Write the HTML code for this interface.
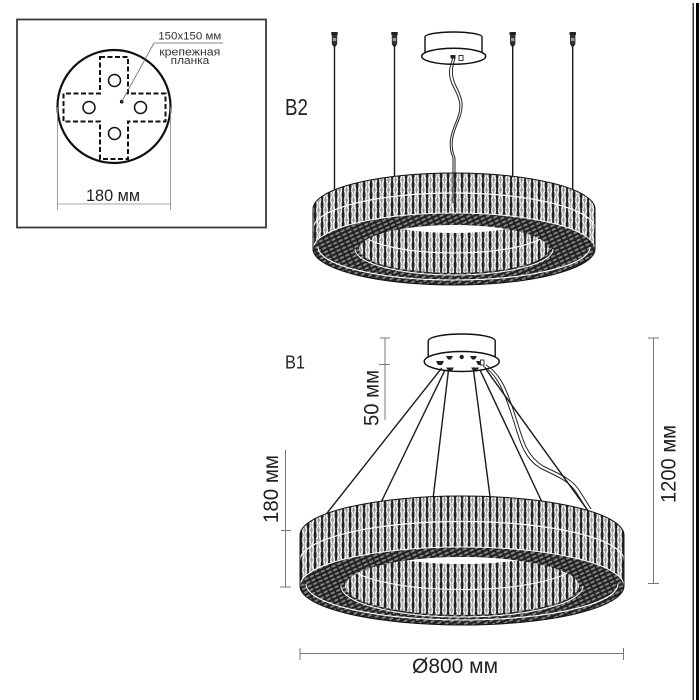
<!DOCTYPE html>
<html><head><meta charset="utf-8"><style>html,body{margin:0;padding:0;background:#fff;width:700px;height:700px;overflow:hidden}</style></head><body>
<svg width="700" height="700" viewBox="0 0 700 700" xmlns="http://www.w3.org/2000/svg" font-family="'Liberation Sans', sans-serif">
<defs>
<pattern id="cr" width="7" height="10" patternUnits="userSpaceOnUse">
<rect width="7" height="10" fill="#222"/>
<rect x="1.3" width="4.6" height="10" fill="#b8b8b8"/>
<path d="M1.3,0.5 L5.9,9.5 M5.9,0.5 L1.3,9.5" stroke="#fff" stroke-width="1.2"/>
<path d="M3.6,0 V10" stroke="#666" stroke-width="0.4"/>
</pattern>
<pattern id="dk" width="6" height="4" patternUnits="userSpaceOnUse" patternTransform="rotate(-25)">
<rect width="6" height="4" fill="#222"/>
<ellipse cx="3" cy="2" rx="2.4" ry="1" fill="#858585"/>
</pattern>
<clipPath id="i1b2"><ellipse cx="454" cy="209" rx="95" ry="24"/></clipPath>
<clipPath id="i2b2"><ellipse cx="454" cy="249" rx="95" ry="24"/></clipPath>
<clipPath id="i1b1"><ellipse cx="462" cy="535" rx="117" ry="29"/></clipPath>
<clipPath id="i2b1"><ellipse cx="462" cy="586" rx="117" ry="29"/></clipPath>
</defs>

<!-- right edge bars -->
<rect x="692.5" y="3" width="1.5" height="697" fill="#333"/>
<rect x="696" y="3" width="3" height="697" fill="#000"/>

<!-- ===== Top-left box ===== -->
<rect x="17" y="19.5" width="249" height="208" fill="none" stroke="#3a3a3a" stroke-width="1.8"/>
<circle cx="114" cy="106.5" r="56.5" fill="none" stroke="#111" stroke-width="2.2"/>
<path d="M100,57 H128 V93.5 H165.5 V121.5 H128 V159 H100 V121.5 H63.5 V93.5 H100 Z" fill="none" stroke="#111" stroke-width="2" stroke-dasharray="5 2.5"/>
<circle cx="114.5" cy="80.5" r="6" fill="none" stroke="#111" stroke-width="1.5"/>
<circle cx="89" cy="107.5" r="6" fill="none" stroke="#111" stroke-width="1.5"/>
<circle cx="140.5" cy="107.5" r="6" fill="none" stroke="#111" stroke-width="1.5"/>
<circle cx="114.5" cy="133.5" r="6" fill="none" stroke="#111" stroke-width="1.5"/>
<circle cx="121.7" cy="101.7" r="1.8" fill="#111"/>
<path d="M121.7,101.7 L154,43 H223" fill="none" stroke="#666" stroke-width="0.8"/>
<text x="158.3" y="39.3" font-size="10.6" fill="#333" textLength="63" lengthAdjust="spacingAndGlyphs">150x150 мм</text>
<text x="159.3" y="55.7" font-size="10.6" fill="#333" textLength="61" lengthAdjust="spacingAndGlyphs">крепежная</text>
<text x="170.7" y="64" font-size="10.6" fill="#333" textLength="38.6" lengthAdjust="spacingAndGlyphs">планка</text>
<path d="M57.5,107 V210 M170.5,107 V210 M57.5,204 H170.5" stroke="#888" stroke-width="0.8" fill="none"/>
<text x="86" y="201" font-size="17" fill="#222" textLength="54" lengthAdjust="spacingAndGlyphs">180 мм</text>

<!-- ===== B2 ===== -->
<text x="285" y="115" font-size="23" fill="#222" textLength="23" lengthAdjust="spacingAndGlyphs">B2</text>

<!-- hooks -->
<g fill="#222">
<g transform="translate(334.5,0)"><rect x="-3.2" y="32" width="6.4" height="3"/><rect x="-2.7" y="35" width="5.4" height="9" fill="#333"/><rect x="-1.7" y="38" width="3.4" height="3" fill="#999"/><path d="M-2.7,44 L0,48 L2.7,44Z"/></g>
<g transform="translate(394.5,0)"><rect x="-3.2" y="32" width="6.4" height="3"/><rect x="-2.7" y="35" width="5.4" height="9" fill="#333"/><rect x="-1.7" y="38" width="3.4" height="3" fill="#999"/><path d="M-2.7,44 L0,48 L2.7,44Z"/></g>
<g transform="translate(512.7,0)"><rect x="-3.2" y="32" width="6.4" height="3"/><rect x="-2.7" y="35" width="5.4" height="9" fill="#333"/><rect x="-1.7" y="38" width="3.4" height="3" fill="#999"/><path d="M-2.7,44 L0,48 L2.7,44Z"/></g>
<g transform="translate(572.7,0)"><rect x="-3.2" y="32" width="6.4" height="3"/><rect x="-2.7" y="35" width="5.4" height="9" fill="#333"/><rect x="-1.7" y="38" width="3.4" height="3" fill="#999"/><path d="M-2.7,44 L0,48 L2.7,44Z"/></g>
</g>
<path d="M334.5,47 V190 M394.5,47 V177 M512.7,47 V177 M572.7,47 V190" stroke="#1a1a1a" stroke-width="1.4" fill="none"/>

<!-- canopy B2 -->
<path d="M425,37 A28.5,5 0 0 1 482,37 L482,54 L425,54 Z" fill="#fff" stroke="#111" stroke-width="1.4"/>
<ellipse cx="453.7" cy="56.3" rx="32" ry="8" fill="#fff" stroke="#111" stroke-width="1.5"/>
<rect x="450.5" y="55" width="5" height="3.5" fill="#222"/>
<rect x="459" y="55.5" width="4" height="5" fill="#fff" stroke="#222" stroke-width="0.9"/>

<!-- ring B2 -->
<path d="M313,209 A141,36 0 0 1 595,209 L595,249 A141,36 0 0 1 313,249 Z" fill="url(#dk)"/>
<ellipse cx="454" cy="249" rx="95" ry="24" fill="url(#cr)"/>
<ellipse cx="454" cy="249" rx="95" ry="24" fill="#fff" clip-path="url(#i1b2)"/>
<path d="M359,229 A95,24 0 0 0 549,229" fill="none" stroke="#fff" stroke-width="1.1" clip-path="url(#i2b2)"/>
<path d="M355,249 A99,26 0 0 0 553,249" fill="none" stroke="#fff" stroke-width="1"/>
<path d="M318,247 A136,33 0 0 0 590,247" fill="none" stroke="#fff" stroke-width="1.1"/>
<path d="M313,209 A141,36 0 0 1 595,209 L595,249 A141,36 0 0 0 313,249 Z" fill="url(#cr)"/>
<path d="M313,229 A141,36 0 0 1 595,229" fill="none" stroke="#fff" stroke-width="1.2"/>
<path d="M313,249 A141,36 0 0 1 595,249" fill="none" stroke="#fff" stroke-width="1"/>
<path d="M313,209 A141,36 0 0 1 595,209 L595,249 A141,36 0 0 1 313,249 Z" fill="none" stroke="#111" stroke-width="1"/>

<!-- center wire B2 -->
<path d="M453,58 C449,68 448,74 452,84 C458,96 464,104 456,122 C450,136 448,146 453,158 L453,203" fill="none" stroke="#222" stroke-width="1"/>
<path d="M455,58 C452,68 451,74 455,84 C461,96 466,104 458,122 C452,136 450,146 455,158 L455,203" fill="none" stroke="#222" stroke-width="1"/>

<!-- ===== B1 ===== -->
<text x="285" y="368.3" font-size="18.5" fill="#222" textLength="20" lengthAdjust="spacingAndGlyphs">B1</text>

<!-- canopy B1 -->
<path d="M428.2,341 A33.5,7 0 0 1 495.2,341 L495.2,358 L428.2,358 Z" fill="#fff" stroke="#111" stroke-width="1.4"/>
<ellipse cx="461.7" cy="361.5" rx="37.5" ry="10" fill="#fff" stroke="#111" stroke-width="1.5"/>
<g fill="#222">
<path d="M436,361 L444,361 L442,365 L438,365 Z"/>
<path d="M446,356 L453,356 L451,359.5 L448,359.5 Z"/>
<circle cx="461.7" cy="357" r="2.2"/>
<path d="M470,356 L477,356 L475,359.5 L472,359.5 Z"/>
<path d="M476,361 L484,361 L482,365 L478,365 Z"/>
<path d="M446,367.5 L454,367.5 L452,370.5 L448,370.5 Z"/>
<path d="M471,367.5 L479,367.5 L477,370.5 L473,370.5 Z"/>
</g>
<rect x="480.5" y="360" width="3.5" height="5" fill="#fff" stroke="#222" stroke-width="0.9"/>

<!-- wires B1 -->
<g stroke="#1a1a1a" stroke-width="1.4" fill="none">
<path d="M441.7,368 L326.7,513.5"/>
<path d="M445,370 L381.7,501"/>
<path d="M448.5,370 L433.3,496.5"/>
<path d="M473.5,370 L490,496.5"/>
<path d="M480,370 L541.7,501.5"/>
<path d="M485,368 L590,513.5"/>
</g>
<g stroke="#222" stroke-width="1" fill="none">
<path d="M483,366 C500,376 506,398 514,422 C520,442 524,458 540,468 C556,476 568,480 576,492 L588,511"/>
<path d="M486,365 C503,375 509,397 517,421 C523,441 527,456 543,466 C559,474 571,478 579,490 L591,509"/>
</g>

<!-- ring B1 -->
<path d="M300,535 A162,39 0 0 1 624,535 L624,586 A162,39 0 0 1 300,586 Z" fill="url(#dk)"/>
<ellipse cx="462" cy="586" rx="117" ry="29" fill="url(#cr)"/>
<ellipse cx="462" cy="586" rx="117" ry="29" fill="#fff" clip-path="url(#i1b1)"/>
<path d="M345,560.5 A117,29 0 0 0 579,560.5" fill="none" stroke="#fff" stroke-width="1.1" clip-path="url(#i2b1)"/>
<path d="M341,586 A121,31 0 0 0 583,586" fill="none" stroke="#fff" stroke-width="1"/>
<path d="M306,584 A156,36 0 0 0 618,584" fill="none" stroke="#fff" stroke-width="1.1"/>
<path d="M300,535 A162,39 0 0 1 624,535 L624,586 A162,39 0 0 0 300,586 Z" fill="url(#cr)"/>
<path d="M300,560.5 A162,39 0 0 1 624,560.5" fill="none" stroke="#fff" stroke-width="1.2"/>
<path d="M300,586 A162,39 0 0 1 624,586" fill="none" stroke="#fff" stroke-width="1"/>
<path d="M300,535 A162,39 0 0 1 624,535 L624,586 A162,39 0 0 1 300,586 Z" fill="none" stroke="#111" stroke-width="1"/>

<!-- dimensions B1 -->
<g stroke="#777" stroke-width="1" fill="none">
<path d="M385,338 V420 M380,338 H390 M379,364.5 H390"/>
<path d="M285.5,450 V587 M281,530.5 H291 M280,587 H291"/>
<path d="M653.5,338 V583.5 M648,338 H659 M648,583.5 H659"/>
<path d="M300,653.5 H623.5 M300,648 V660 M623.5,648 V660"/>
</g>
<text transform="translate(378.5,398) rotate(-90)" text-anchor="middle" font-size="21" fill="#222" textLength="56" lengthAdjust="spacingAndGlyphs">50 мм</text>
<text transform="translate(278,489) rotate(-90)" text-anchor="middle" font-size="21" fill="#222" textLength="68" lengthAdjust="spacingAndGlyphs">180 мм</text>
<text transform="translate(675.5,464) rotate(-90)" text-anchor="middle" font-size="21" fill="#222" textLength="78" lengthAdjust="spacingAndGlyphs">1200 мм</text>
<text x="455" y="673" text-anchor="middle" font-size="21" fill="#222" textLength="86" lengthAdjust="spacingAndGlyphs">Ø800 мм</text>
</svg>
</body></html>
